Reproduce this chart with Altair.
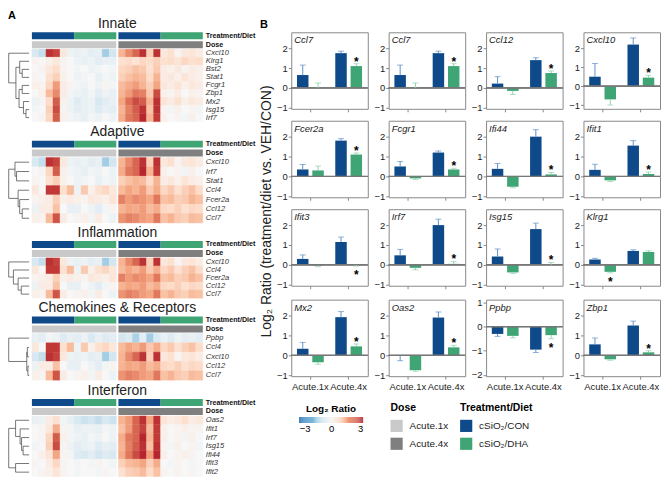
import altair as alt
import pandas as pd

FONT = "Liberation Sans"
CON_C, DHA_C = "#0E4A8A", "#3FA574"
CON_E, DHA_E = "#5E92CB", "#8ED3B0"
D1_C, D4_C = "#C9C9C9", "#7F7F7F"

# ---------------- heatmap data (24 samples: 6 CON-1x, 6 DHA-1x, 6 CON-4x, 6 DHA-4x)
col_treat = ["CON"] * 6 + ["DHA"] * 6 + ["CON"] * 6 + ["DHA"] * 6
col_dose = ["Acute.1x"] * 12 + ["Acute.4x"] * 12

HEAT = {
    "Cxcl10": [-0.6, -0.9, 2.8, 2.6, 0.4, -0.2, -0.3, -0.2, -0.4, -0.3, -1.3, -0.7, 1.3, 1.8, 2.2, 2.8, 0.9, 2.8, 0.4, 0.6, 0.1, 0.4, 0.5, 0.3],
    "Klrg1": [0.1, 0.0, 0.2, 0.4, 0.1, 0.0, -0.2, -0.3, -0.2, -0.4, -0.3, -0.3, 0.6, 0.7, 0.5, 0.8, 0.7, 0.9, 0.6, 0.7, 0.5, 0.8, 0.6, 0.7],
    "Bst2": [0.0, 0.1, 0.4, 0.7, 0.1, 0.0, -0.1, 0.0, -0.2, -0.1, 0.0, -0.1, 0.8, 0.9, 1.1, 1.0, 0.6, 1.0, 0.3, 0.2, 0.4, 0.1, 0.3, 0.2],
    "Stat1": [0.1, 0.0, 0.6, 0.9, 0.2, 0.0, -0.2, -0.1, 0.0, -0.3, -0.1, -0.2, 0.9, 1.1, 1.3, 1.2, 0.7, 1.3, 0.3, 0.4, 0.2, 0.5, 0.3, 0.2],
    "Fcgr1": [0.2, 0.1, 0.8, 1.6, 0.3, 0.1, -0.1, -0.2, 0.0, -0.2, 0.1, -0.1, 1.2, 1.4, 1.6, 1.3, 0.9, 1.5, 0.4, 0.3, 0.5, 0.2, 0.4, 0.3],
    "Zbp1": [0.0, 0.2, 1.2, 1.8, 0.3, -0.1, -0.2, -0.3, -0.1, -0.4, -0.2, -0.3, 1.3, 1.6, 2.0, 1.9, 1.0, 2.5, 0.2, 0.1, 0.3, 0.0, 0.2, 0.1],
    "Mx2": [-0.2, 0.1, 0.7, 2.3, 0.2, -0.2, -0.5, -0.3, -0.2, -0.6, -0.4, -0.3, 1.5, 2.1, 2.5, 2.3, 1.3, 2.8, 0.5, 0.3, 0.6, 0.2, 0.4, 0.3],
    "Isg15": [-0.1, 0.0, 0.9, 2.5, 0.1, -0.2, -0.4, -0.3, -0.2, -0.5, -0.3, -0.4, 1.3, 1.9, 2.3, 2.8, 1.1, 2.8, 0.1, -0.1, 0.2, 0.0, 0.1, -0.1],
    "Irf7": [0.0, 0.1, 0.8, 2.3, 0.2, -0.1, -0.2, -0.3, -0.1, -0.2, 0.0, -0.2, 1.4, 2.0, 2.2, 2.9, 1.3, 2.7, 0.2, 0.0, 0.1, -0.1, 0.2, 0.0],
    "Ccl4": [0.4, 0.0, 2.7, 2.7, 0.6, 1.2, -0.2, 1.0, 0.2, 0.6, 0.8, 0.4, 1.2, 1.5, 1.3, 1.6, 1.0, 1.4, 0.8, 1.0, 0.6, 0.9, 1.1, 0.7],
    "Fcer2a": [0.1, 0.2, 0.3, 0.9, 0.2, 0.3, 0.2, 0.1, 0.4, 0.3, 0.2, 0.5, 1.9, 1.6, 1.8, 1.7, 1.5, 2.0, 1.1, 1.2, 0.9, 1.0, 1.3, 1.1],
    "Ccl12": [-0.2, 0.3, 0.3, 1.1, 0.0, -0.3, -0.3, 0.0, -0.2, -0.4, -0.1, 0.1, 1.3, 1.5, 1.4, 1.6, 1.2, 1.4, 0.8, 0.7, 0.9, 0.6, 0.8, 0.7],
    "Ccl7": [0.2, 0.1, 1.2, 2.4, 0.3, 0.0, 0.1, 0.2, -0.1, 0.3, 0.0, -0.2, 1.7, 1.9, 1.8, 1.6, 1.5, 2.0, 1.1, 1.3, 1.0, 0.9, 1.2, 1.1],
    "Ppbp": [-0.3, -0.4, -0.1, -0.2, -0.5, -0.3, -0.4, -0.2, -0.6, -0.3, -0.5, -0.4, -0.7, -0.5, -1.2, -0.4, -1.3, -0.6, -0.3, -0.5, -0.2, -0.4, -0.3, -0.4],
    "Oas2": [-0.3, -0.2, 0.3, 0.6, -0.1, -0.3, -0.6, -0.8, -0.7, -0.9, -0.6, -0.8, 1.3, 1.6, 2.2, 2.8, 1.5, 2.8, 0.5, 0.3, 0.4, 0.6, 0.3, 0.4],
    "Ifit1": [0.0, 0.1, 0.4, 1.4, 0.1, -0.1, -0.3, -0.2, -0.2, -0.3, -0.1, -0.2, 1.1, 1.6, 2.2, 2.6, 1.2, 2.7, 0.2, 0.0, 0.1, 0.2, 0.1, 0.1],
    "Ifi44": [0.0, 0.2, 0.5, 1.5, 0.1, -0.1, -0.5, -0.6, -0.4, -0.7, -0.5, -0.6, 1.4, 2.0, 2.5, 2.9, 1.6, 2.9, 0.2, 0.0, 0.1, 0.2, 0.1, 0.0],
    "Ifit3": [0.1, 0.0, 0.3, 0.8, 0.1, 0.0, -0.1, 0.0, -0.1, 0.1, 0.0, -0.1, 0.9, 1.2, 1.3, 1.5, 0.9, 1.4, 0.0, -0.1, 0.1, 0.0, -0.1, 0.0],
    "Ifit2": [0.0, 0.1, 0.2, 0.5, 0.1, 0.0, -0.1, 0.0, 0.0, -0.1, 0.1, 0.0, 0.6, 0.9, 1.0, 1.2, 0.7, 1.1, 0.1, 0.0, 0.1, 0.0, 0.1, 0.0],
}

# blocks: title, genes (top to bottom), dendrogram tree (height, left, right), row height px
BLOCK_TITLES = ["Innate", "Adaptive", "Inflammation", "Chemokines & Receptors", "Interferon"]
BLOCK_GENES = [
    ["Cxcl10", "Klrg1", "Bst2", "Stat1", "Fcgr1", "Zbp1", "Mx2", "Isg15", "Irf7"],
    ["Cxcl10", "Irf7", "Stat1", "Ccl4", "Fcer2a", "Ccl12", "Ccl7"],
    ["Cxcl10", "Ccl4", "Fcer2a", "Ccl12", "Ccl7"],
    ["Ppbp", "Ccl4", "Cxcl10", "Ccl12", "Ccl7"],
    ["Oas2", "Ifit1", "Irf7", "Isg15", "Ifi44", "Ifit3", "Ifit2"],
]
BLOCK_TREES = [
    (65, 0, (42, (30, 1, (22, 2, 3)), (32, (22, 4, 5), (18, 6, (10, 7, 8))))),
    (65, (45, 0, (40, 1, 2)), (35, 3, (30, 4, (22, 5, 6)))),
    (65, 0, (50, 1, (35, 2, (25, 3, 4)))),
    (70, 0, (8, (6, 1, 2), (4, 3, 4))),
    (68, (45, 0, (30, 1, (25, 2, (20, 3, 4)))), (45, 5, 6)),
]
BLOCK_ROWPX = [8.1, 9.4, 8.1, 9.4, 8.7]

# ---------------- bar chart data: [1x CON, 1x DHA, 4x CON, 4x DHA]
PANEL_GENES = ["Ccl7", "Ccl7", "Ccl12", "Cxcl10",
               "Fcer2a", "Fcgr1", "Ifi44", "Ifit1",
               "Ifit3", "Irf7", "Isg15", "Klrg1",
               "Mx2", "Oas2", "Ppbp", "Zbp1"]
PANEL_MEANS = [
    [0.65, 0.0, 1.75, 1.1], [0.65, 0.0, 1.75, 1.1], [0.22, -0.15, 1.4, 0.75], [0.5, -0.7, 2.2, 0.45],
    [0.35, 0.3, 1.8, 1.1], [0.5, -0.1, 1.2, 0.35], [0.38, -0.52, 2.0, 0.1], [0.33, -0.2, 1.55, 0.12],
    [0.3, -0.03, 1.15, -0.02], [0.48, -0.15, 2.0, 0.05], [0.42, -0.38, 1.8, 0.0], [0.27, -0.35, 0.7, 0.65],
    [0.33, -0.35, 1.92, 0.45], [-0.02, -0.75, 1.9, 0.4], [-0.3, -0.38, -0.95, -0.35], [0.55, -0.2, 1.5, 0.15],
]
PANEL_ERRS = [
    [0.5, 0.25, 0.1, 0.12], [0.5, 0.25, 0.1, 0.12], [0.35, 0.18, 0.12, 0.1], [0.7, 0.3, 0.35, 0.12],
    [0.25, 0.22, 0.1, 0.08], [0.25, 0.06, 0.08, 0.06], [0.27, 0.05, 0.35, 0.1], [0.28, 0.06, 0.25, 0.1],
    [0.2, 0.06, 0.25, 0.04], [0.3, 0.1, 0.3, 0.12], [0.38, 0.05, 0.3, 0.12], [0.06, 0.05, 0.06, 0.06],
    [0.32, 0.1, 0.28, 0.12], [0.25, 0.05, 0.28, 0.1], [0.1, 0.08, 0.12, 0.15], [0.32, 0.05, 0.22, 0.08],
]
# star: (bar index, direction)
PANEL_STARS = [
    (3, "up"), (3, "up"), (3, "up"), (3, "up"),
    (3, "up"), (3, "up"), (3, "up"), (3, "up"),
    (3, "down"), (3, "up"), (3, "up"), (1, "down"),
    (3, "up"), (3, "up"), (3, "down"), (3, "up"),
]
PANEL_YLIM = [[-1.05, 2.8]] * 3 + [[-1.2, 2.85]] + [[-1.05, 2.8]] * 10 + [[-2.05, 1.12]] + [[-1.05, 2.8]]
PANEL_YTICKS = [[-1, 0, 1, 2]] * 14 + [[-2, -1, 0, 1]] + [[-1, 0, 1, 2]]

BAR_DOSE = ["Acute.1x", "Acute.1x", "Acute.4x", "Acute.4x"]
BAR_TREAT = ["CON", "DHA", "CON", "DHA"]
DOSES = ["Acute.1x", "Acute.4x"]
TREATS = ["CON", "DHA"]
TREAT_LABELS = ["cSiO₂/CON", "cSiO₂/DHA"]

HEAT_SCALE = alt.Scale(
    domain=[-3, -2.25, -1.5, -0.75, 0, 0.75, 1.5, 2.25, 3],
    range=["#2166ac", "#4393c3", "#92c5de", "#d1e5f0", "#f7f7f7", "#fddbc7", "#f4a582", "#d6604d", "#b2182b"],
    clamp=True,
)

GAP = 0.3
XMIN, XMAX = -3.4, 24 + GAP
LEAF_X, ROOT_X = -0.4, -3.3
PLOT_W = 196


def col_x(c):
    return c + (GAP if c >= 12 else 0.0)


def dendro_segments(tree):
    segs = []
    hmax = tree[0]

    def hx(h):
        return LEAF_X - h / hmax * (LEAF_X - ROOT_X)

    def walk(node):
        if isinstance(node, int):
            return node + 0.5, 0.0
        h, l, r = node
        yl, hl = walk(l)
        yr, hr = walk(r)
        segs.append(dict(x1=hx(h), x2=hx(h), y1=yl, y2=yr))
        segs.append(dict(x1=hx(hl), x2=hx(h), y1=yl, y2=yl))
        segs.append(dict(x1=hx(hr), x2=hx(h), y1=yr, y2=yr))
        return (yl + yr) / 2, h

    walk(tree)
    return pd.DataFrame(segs)


def heat_block(title, genes, tree, rowpx):
    n = len(genes)
    a = 17.0 / rowpx
    cells = []
    for r, g in enumerate(genes):
        for c, v in enumerate(HEAT[g]):
            cells.append(dict(v=v, x=col_x(c), x2=col_x(c) + 1, y=r, y2=r + 1))
    cells = pd.DataFrame(cells)

    annot = []
    tcol = {"CON": CON_C, "DHA": DHA_C}
    dcol = {"Acute.1x": D1_C, "Acute.4x": D4_C}
    start = 0
    for c in range(1, 25):
        if c == 24 or col_treat[c] != col_treat[start] or col_dose[c] != col_dose[start]:
            annot.append(dict(x=col_x(start), x2=col_x(c - 1) + 1, y=-a, y2=-a + 7 / rowpx, c=tcol[col_treat[start]]))
            start = c
    start = 0
    for c in range(1, 25):
        if c == 24 or col_dose[c] != col_dose[start]:
            annot.append(dict(x=col_x(start), x2=col_x(c - 1) + 1, y=-a + 9 / rowpx, y2=-a + 16 / rowpx, c=dcol[col_dose[start]]))
            start = c
    annot = pd.DataFrame(annot)

    xs = alt.Scale(domain=[XMIN, XMAX], nice=False, zero=False)
    ys = alt.Scale(domain=[-a, n], nice=False, zero=False, reverse=True)

    heat = alt.Chart(cells).mark_rect(strokeWidth=0.4).encode(
        x=alt.X("x:Q", scale=xs, axis=None), x2="x2:Q",
        y=alt.Y("y:Q", scale=ys, axis=None), y2="y2:Q",
        color=alt.Color("v:Q", scale=HEAT_SCALE, legend=None),
        stroke=alt.Stroke("v:Q", scale=HEAT_SCALE, legend=None),
    )
    ann = alt.Chart(annot).mark_rect().encode(
        x=alt.X("x:Q", scale=xs, axis=None), x2="x2:Q",
        y=alt.Y("y:Q", scale=ys, axis=None), y2="y2:Q",
        fill=alt.Fill("c:N", scale=None),
    )
    dend = alt.Chart(dendro_segments(tree)).mark_rule(color="#555", strokeWidth=0.8).encode(
        x=alt.X("x1:Q", scale=xs, axis=None), x2="x2:Q",
        y=alt.Y("y1:Q", scale=ys, axis=None), y2="y2:Q",
    )
    glab = pd.DataFrame(dict(label=genes, lx=[XMAX] * n, ly=[r + 0.5 for r in range(n)]))
    labs = alt.Chart(glab).mark_text(align="left", baseline="middle", fontStyle="italic",
                                     fontSize=7.6, dx=3, color="#333").encode(
        x=alt.X("lx:Q", scale=xs, axis=None), y=alt.Y("ly:Q", scale=ys, axis=None), text="label:N")
    alab = pd.DataFrame(dict(label=["Treatment/Diet", "Dose"], lx=[XMAX, XMAX],
                             ly=[-a + 3.5 / rowpx, -a + 12.5 / rowpx]))
    alabs = alt.Chart(alab).mark_text(align="left", baseline="middle", fontWeight="bold",
                                      fontSize=7.2, dx=3, color="#111").encode(
        x=alt.X("lx:Q", scale=xs, axis=None), y=alt.Y("ly:Q", scale=ys, axis=None), text="label:N")
    return alt.layer(heat, ann, dend, labs, alabs).properties(
        width=PLOT_W, height=17 + n * rowpx,
        title=alt.TitleParams(title, fontSize=14, fontWeight="normal", dx=12, offset=1,
                              anchor="middle", color="#222"),
    )


def bar_panel(i, show_x):
    g = PANEL_GENES[i]
    m = PANEL_MEANS[i]
    e = PANEL_ERRS[i]
    hi = [mm + ee if mm >= 0 else mm - ee for mm, ee in zip(m, e)]
    df = pd.DataFrame(dict(dose=BAR_DOSE, treat=BAR_TREAT, m=m, hi=hi, z=[0] * 4))
    si, sd = PANEL_STARS[i]
    sdf = df.iloc[[si]].assign(s="*")
    x = alt.X("dose:N", scale=alt.Scale(domain=DOSES, paddingInner=0.3, paddingOuter=0.15),
              axis=alt.Axis(title=None, labels=show_x, labelAngle=0, ticks=True, tickSize=3, domain=False,
                            labelFontSize=9.5, labelPadding=2, tickColor="#888", labelColor="#222"))
    xo = alt.XOffset("treat:N", scale=alt.Scale(domain=TREATS, paddingInner=0.25))
    ys = alt.Scale(domain=PANEL_YLIM[i], nice=False, zero=False)
    yax = alt.Axis(title=None, values=PANEL_YTICKS[i], grid=False, domain=False, tickSize=3,
                   labelFontSize=9.5, labelPadding=1, tickColor="#888", labelColor="#222",
                   labelOverlap=False, labelFlush=False)
    base = alt.Chart(df)
    bars = base.mark_bar().encode(
        x=x, xOffset=xo, y=alt.Y("m:Q", scale=ys, axis=yax), y2="z:Q",
        color=alt.Color("treat:N", scale=alt.Scale(domain=TREATS, range=[CON_C, DHA_C]), legend=None))
    err = base.mark_rule(strokeWidth=1).encode(
        x=x, xOffset=xo, y=alt.Y("m:Q", scale=ys, axis=yax), y2="hi:Q",
        stroke=alt.Stroke("treat:N", scale=alt.Scale(domain=TREATS, range=[CON_E, DHA_E]), legend=None))
    cap = base.mark_tick(thickness=1, size=6).encode(
        x=x, xOffset=xo, y=alt.Y("hi:Q", scale=ys, axis=yax),
        color=alt.Color("treat:N", scale=alt.Scale(domain=TREATS, range=[CON_E, DHA_E]), legend=None))
    zero = base.mark_rule(color="#777", strokeWidth=1).encode(y=alt.Y("z:Q", scale=ys, axis=yax))
    star = alt.Chart(sdf).mark_text(fontSize=12, fontWeight="bold", baseline="middle",
                                    dy=(-2 if sd == "up" else 9), color="#000").encode(
        x=x, xOffset=xo, y=alt.Y("hi:Q", scale=ys, axis=yax), text="s:N")
    lab = alt.Chart(pd.DataFrame(dict(g=[g]))).mark_text(
        align="left", baseline="top", fontStyle="italic", fontSize=9.5, color="#222").encode(
        x=alt.value(3), y=alt.value(3), text="g:N")
    return alt.layer(bars, zero, err, cap, star, lab).resolve_scale(color="independent").properties(
        width=77, height=77, view=alt.ViewBackground(stroke="#888", strokeWidth=1))


# ---------------- assemble
left = alt.vconcat(*[
    heat_block(BLOCK_TITLES[k], BLOCK_GENES[k], BLOCK_TREES[k], BLOCK_ROWPX[k]) for k in range(5)
], spacing=2, title=alt.TitleParams("A", fontSize=11, fontWeight="bold", anchor="start", offset=-4))

rows = []
for r in range(4):
    rows.append(alt.hconcat(*[bar_panel(r * 4 + c, r == 3) for c in range(4)], spacing=4))
grid = alt.vconcat(*rows, spacing=7, title=alt.TitleParams(
    "Log₂ Ratio (treatment/diet vs. VEH/CON)", orient="left", fontSize=14, fontWeight="normal",
    anchor="middle", color="#222", offset=2))

cbar = alt.Chart(alt.sequence(-3, 2.95, 0.1, as_="v")).transform_calculate(
    v2="datum.v + 0.1", vc="datum.v + 0.05").mark_rect().encode(
    x=alt.X("v:Q", scale=alt.Scale(domain=[-3, 3], nice=False, zero=False),
            axis=alt.Axis(title=None, values=[-3, 0, 3], ticks=False, domain=False, labelFontSize=9.5,
                          labelPadding=1, labelExpr="datum.value < 0 ? '−' + abs(datum.value) : datum.label")),
    x2="v2:Q",
    color=alt.Color("vc:Q", scale=HEAT_SCALE, legend=None),
).properties(width=64, height=6, title=alt.TitleParams("Log₂ Ratio", fontSize=10, fontWeight="bold", offset=3))


def legend_chart(title, field, labels, colors, w):
    df = pd.DataFrame({field: labels, "hex": colors})
    ysc = alt.Scale(domain=labels, paddingInner=0.3, paddingOuter=0.1)
    sq = alt.Chart(df).mark_square(size=150, opacity=1, filled=True).encode(
        x=alt.value(6), y=alt.Y(f"{field}:N", scale=ysc, axis=None),
        fill=alt.Fill("hex:N", scale=None))
    tx = alt.Chart(df).mark_text(align="left", baseline="middle", fontSize=10, color="#222").encode(
        x=alt.value(19), y=alt.Y(f"{field}:N", scale=ysc, axis=None), text=f"{field}:N")
    return alt.layer(sq, tx).properties(width=w, height=36, title=alt.TitleParams(
        title, fontSize=10.5, fontWeight="bold", anchor="start", offset=3))


dose_leg = legend_chart("Dose", "dose_lab", DOSES, [D1_C, D4_C], 58)
treat_leg = legend_chart("Treatment/Diet", "treat_lab", TREAT_LABELS, [CON_C, DHA_C], 70)
spacer = alt.Chart(pd.DataFrame(dict(a=[0]))).mark_point(opacity=0).encode(
    x=alt.value(0), y=alt.value(0)).properties(width=4, height=6)
legend_row = alt.hconcat(
    spacer,
    alt.hconcat(cbar, alt.hconcat(dose_leg, treat_leg, spacing=11), spacing=27),
    spacing=4)

right = alt.vconcat(grid, legend_row, spacing=12, title=alt.TitleParams(
    "B", fontSize=11, fontWeight="bold", anchor="start", offset=2))

chart = alt.hconcat(left, right, spacing=4).properties(
    padding={"left": 0, "top": 0, "right": 0, "bottom": 0}
).configure(font=FONT).configure_view(stroke=None)

chart.save("out.html", embed_options={"renderer": "svg", "actions": False})
